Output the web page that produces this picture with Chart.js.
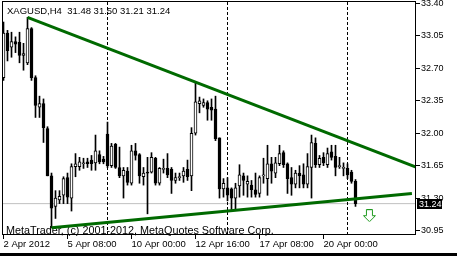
<!DOCTYPE html>
<html><head><meta charset="utf-8">
<script src="https://cdn.jsdelivr.net/npm/chart.js@4.4.1/dist/chart.umd.min.js"></script>
<style>html,body{margin:0;padding:0;background:#fff;overflow:hidden}canvas{display:block}</style>
</head><body>
<canvas id="c" width="457" height="256"></canvas>
<script>
const symbol = 'XAGUSD';
const timeframe = 'H4';
const opens = [32.60,33.08,32.93,32.99,32.98,32.84,32.76,33.13,32.60,32.28,
32.32,32.05,31.54,31.21,31.28,31.33,31.52,31.30,31.64,31.64,
31.67,31.69,31.71,31.68,31.77,31.72,31.99,31.65,31.88,31.63,
31.54,31.59,31.46,31.81,31.77,31.53,31.58,31.58,31.73,31.46,
31.61,31.62,31.61,31.49,31.52,31.54,31.61,31.54,32.00,32.32,
32.30,32.33,32.28,32.26,31.95,31.40,31.41,31.40,31.30,31.43,
31.54,31.45,31.44,31.39,31.35,31.54,31.51,31.67,31.57,31.67,
31.79,31.67,31.52,31.45,31.57,31.55,31.45,31.63,31.89,31.66,
31.74,31.66,31.80,31.75,31.64,31.62,31.62,31.58,31.48];
const highs = [33.20,33.11,33.09,33.04,33.09,32.97,33.25,33.14,32.62,32.40,
32.37,32.07,31.57,31.38,31.38,31.53,31.57,31.67,31.78,31.74,
31.73,31.73,31.76,31.98,31.81,31.75,32.12,31.89,31.89,31.85,
31.63,31.63,31.87,31.89,31.78,31.63,31.74,31.79,31.74,31.63,
31.72,31.78,31.63,31.57,31.57,31.63,31.71,32.06,32.55,32.39,
32.37,32.35,32.37,32.40,31.95,31.51,31.52,31.41,31.46,31.66,
31.57,31.54,31.49,31.57,31.54,31.73,31.87,31.74,31.74,31.87,
31.81,31.68,31.63,31.60,31.65,31.67,31.78,31.98,31.95,31.76,
31.79,31.84,31.87,31.87,31.74,31.68,31.67,31.60,31.50];
const lows = [32.57,32.78,32.82,32.87,32.76,32.68,32.74,32.57,32.17,32.17,
31.90,31.54,30.98,31.08,31.24,31.24,31.24,31.16,31.53,31.60,
31.62,31.63,31.60,31.60,31.67,31.67,31.63,31.63,31.62,31.52,
31.30,31.44,31.44,31.71,31.46,31.44,31.13,31.57,31.44,31.44,
31.57,31.52,31.35,31.46,31.49,31.47,31.49,31.38,31.98,32.22,
32.28,32.14,32.14,31.92,31.30,31.31,31.27,31.17,31.17,31.31,
31.33,31.31,31.31,31.31,31.31,31.46,31.33,31.46,31.52,31.65,
31.63,31.35,31.33,31.41,31.41,31.41,31.41,31.30,31.63,31.63,
31.65,31.63,31.71,31.54,31.62,31.54,31.51,31.46,31.21];
const closes = [33.08,32.89,32.99,32.96,32.84,32.86,33.13,32.60,32.30,32.32,
32.06,31.54,31.19,31.30,31.32,31.51,31.31,31.64,31.67,31.69,
31.68,31.67,31.67,31.81,31.69,31.69,31.65,31.86,31.63,31.54,
31.60,31.47,31.81,31.76,31.54,31.57,31.57,31.74,31.46,31.62,
31.61,31.55,31.49,31.52,31.52,31.59,31.53,32.00,32.34,32.35,
32.33,32.26,32.25,31.94,31.40,31.46,31.33,31.30,31.41,31.55,
31.49,31.48,31.39,31.34,31.52,31.54,31.67,31.59,31.68,31.78,
31.66,31.51,31.45,31.57,31.54,31.45,31.64,31.90,31.66,31.73,
31.68,31.78,31.74,31.63,31.64,31.63,31.55,31.48,31.24];

const xTickIndex = [0, 16, 32, 48, 64, 80];
const xTickLabels = ['2 Apr 2012', '5 Apr 08:00', '10 Apr 00:00', '12 Apr 16:00', '17 Apr 08:00', '20 Apr 00:00'];
const yTickValues = [30.95, 31.30, 31.65, 32.00, 32.35, 32.70, 33.05, 33.40];
const separatorIndex = [26, 56, 86];
const upperTrendX = [6, 103.125];
const upperTrendY = [33.25, 31.635];
const lowerTrendX = [12, 102.1];
const lowerTrendY = [30.98, 31.35];
const arrowX = [91.6];
const arrowY = [31.11];
const xRange = [-0.375, 103.125];
const yRange = [30.9014, 33.4162];
const footerText = 'MetaTrader, (c) 2001-2012, MetaQuotes Software Corp.';

const FONT = 'Liberation Sans';
const last = closes.length - 1;

const wickData = highs.map((h, i) => ({x: i, y: [lows[i], h]}));
const bodyData = opens.map((o, i) => ({x: i, y: [Math.min(o, closes[i]), Math.max(o, closes[i])]}));
const bodyColors = opens.map((o, i) => closes[i] >= o ? '#ffffff' : '#000000');

const arrowImg = document.createElement('canvas');
arrowImg.width = 14; arrowImg.height = 13;
(function(){
  const a = arrowImg.getContext('2d');
  a.beginPath();
  a.moveTo(3.5,0.5); a.lineTo(9.5,0.5); a.lineTo(9.5,6.5); a.lineTo(12.5,6.5);
  a.lineTo(6.5,12.5); a.lineTo(0.5,6.5); a.lineTo(3.5,6.5); a.closePath();
  a.fillStyle = '#ffffff'; a.fill();
  a.strokeStyle = '#1f9a1f'; a.lineWidth = 1; a.stroke();
})();

const datasets = [];
separatorIndex.forEach(s => datasets.push({
  type: 'line', data: [{x: s, y: yRange[0]}, {x: s, y: yRange[1]}],
  borderColor: '#000', borderWidth: 1, borderDash: [3, 2], pointRadius: 0, order: 6
}));
datasets.push({
  type: 'line', data: [{x: xRange[0], y: closes[last]}, {x: xRange[1], y: closes[last]}],
  borderColor: '#c0c0c0', borderWidth: 1, pointRadius: 0, order: 7
});
datasets.push({
  type: 'bar', data: wickData, backgroundColor: '#000', borderWidth: 0,
  barThickness: 1, grouped: false, minBarLength: 1, order: 3
});
datasets.push({
  type: 'bar', data: bodyData, backgroundColor: bodyColors, borderColor: '#000', borderWidth: 1,
  borderSkipped: false, barThickness: 3, grouped: false, minBarLength: 1, order: 2
});
datasets.push({
  type: 'line', data: upperTrendX.map((x, i) => ({x, y: upperTrendY[i]})),
  borderColor: '#006a00', borderWidth: 3, pointRadius: 0, order: 1
});
datasets.push({
  type: 'line', data: lowerTrendX.map((x, i) => ({x, y: lowerTrendY[i]})),
  borderColor: '#006a00', borderWidth: 3, pointRadius: 0, order: 1
});
datasets.push({
  type: 'line', data: arrowX.map((x, i) => ({x, y: arrowY[i]})), showLine: false,
  pointStyle: arrowImg, pointRadius: 7, order: 0
});

const mtPlugin = {
  id: 'mt',
  beforeDraw(chart) {
    const c = chart.ctx; c.save(); c.fillStyle = '#fff'; c.fillRect(0, 0, chart.width, chart.height); c.restore();
  },
  beforeDatasetsDraw(chart) {
    const c = chart.ctx; c.save();
    c.fillStyle = '#000'; c.textBaseline = 'alphabetic'; c.textAlign = 'left';
    c.font = '9.5px "' + FONT + '"';
    const hdr = symbol + ',' + timeframe + '  ' + opens[last].toFixed(2) + ' ' + highs[last].toFixed(2) + ' ' + lows[last].toFixed(2) + ' ' + closes[last].toFixed(2);
    c.fillText(hdr, 7, 14);
    c.font = '10.8px "' + FONT + '"';
    c.fillText(footerText, 6, 234);
    c.restore();
  },
  afterDraw(chart) {
    const c = chart.ctx, a = chart.chartArea; c.save();
    c.strokeStyle = '#000'; c.lineWidth = 1;
    c.strokeRect(a.left + 0.5, a.top - 0.5, a.right - a.left - 1, a.bottom - a.top);
    const y = Math.round(chart.scales.y.getPixelForValue(closes[last]));
    c.fillStyle = '#000'; c.fillRect(417, y - 5, 25, 10);
    c.fillStyle = '#fff'; c.font = '9px "' + FONT + '"'; c.textBaseline = 'middle'; c.textAlign = 'left';
    c.fillText(closes[last].toFixed(2), 419, y + 0.5);
    c.fillStyle = '#000'; c.fillRect(0, 253, chart.width, 3);
    c.restore();
  }
};

new Chart(document.getElementById('c'), {
  type: 'bar',
  data: {datasets},
  plugins: [mtPlugin],
  options: {
    responsive: false, animation: false, devicePixelRatio: 1,
    layout: {autoPadding: false, padding: {left: 2, top: 2, right: 0, bottom: 0}},
    plugins: {legend: {display: false}, tooltip: {enabled: false}},
    scales: {
      x: {
        type: 'linear', min: xRange[0], max: xRange[1], offset: false,
        grid: {display: true, drawOnChartArea: false, drawTicks: true, tickLength: 4, color: '#000', offset: false},
        border: {display: false},
        ticks: {
          align: 'start', autoSkip: false, maxRotation: 0, minRotation: 0, padding: 0, color: '#000',
          font: {family: FONT, size: 9.5},
          callback: v => { const k = xTickIndex.indexOf(v); return k >= 0 ? xTickLabels[k] : ''; }
        },
        afterBuildTicks: s => { s.ticks = xTickIndex.map(v => ({value: v})); },
        afterFit: s => { s.height = 21; s.paddingLeft = 0; s.paddingRight = 0; }
      },
      y: {
        type: 'linear', position: 'right', min: yRange[0], max: yRange[1],
        grid: {display: true, drawOnChartArea: false, drawTicks: true, tickLength: 4, color: '#000'},
        border: {display: false},
        ticks: {
          autoSkip: false, padding: 1, color: '#000', font: {family: FONT, size: 9},
          callback: v => Number(v).toFixed(2)
        },
        afterBuildTicks: s => { s.ticks = yTickValues.map(v => ({value: v})); },
        afterFit: s => { s.width = 41; s.paddingTop = 0; s.paddingBottom = 0; }
      }
    }
  }
});
</script>
</body></html>
